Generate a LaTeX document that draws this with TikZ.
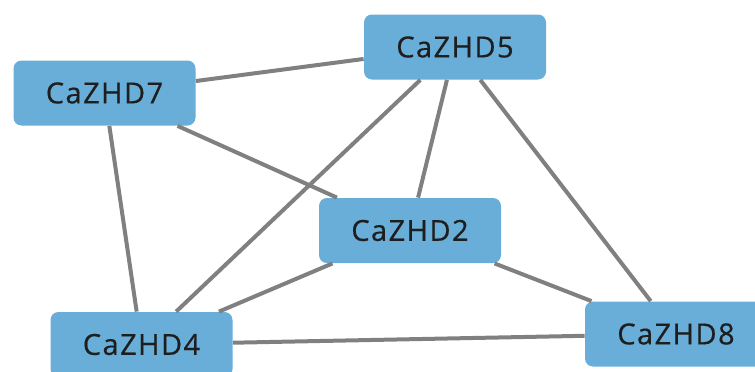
\documentclass[tikz,border=0pt]{standalone}
\usepackage{fontspec}
\setmainfont{Open Sans}[LetterSpace=5,FakeBold=0.5]
\usepackage{xcolor}
\usetikzlibrary{positioning}
\definecolor{genefill}{HTML}{68AED8}
\definecolor{edgegray}{HTML}{808080}
\definecolor{genetext}{HTML}{1E1E1E}
\tikzset{
  gene/.style={fill=genefill, rounded corners=4pt, align=center,
               font=\fontsize{14.5}{16}\selectfont, text=genetext,
               minimum width=91pt, minimum height=32.5pt, inner sep=2pt},
  link/.style={draw=edgegray, line width=2pt}
}
\begin{document}
\begin{tikzpicture}[x=0.5pt,y=-0.5pt]
  \useasboundingbox (0,0) rectangle (755,371);
  \clip (0,0) rectangle (755,371);
  % genes
  \node[gene] (z5) at (455,47) {CaZHD5};
  \node[gene] (z7) at (104.5,93) {CaZHD7};
  \node[gene] (z2) at (410,230.5) {CaZHD2};
  \node[gene] (z4) at (141.5,344.5) {CaZHD4};
  \node[gene] (z8) at (676,334) {CaZHD8};
  % interactions
  \draw[link] (z7) -- (z5);
  \draw[link] (z7) -- (z2);
  \draw[link] (z7) -- (z4);
  \draw[link] (z5) -- (z4);
  \draw[link] (z5) -- (z2);
  \draw[link] (z5) -- (z8);
  \draw[link] (z2) -- (z4);
  \draw[link] (z2) -- (z8);
  \draw[link] (z4) -- (z8);
\end{tikzpicture}
\end{document}
